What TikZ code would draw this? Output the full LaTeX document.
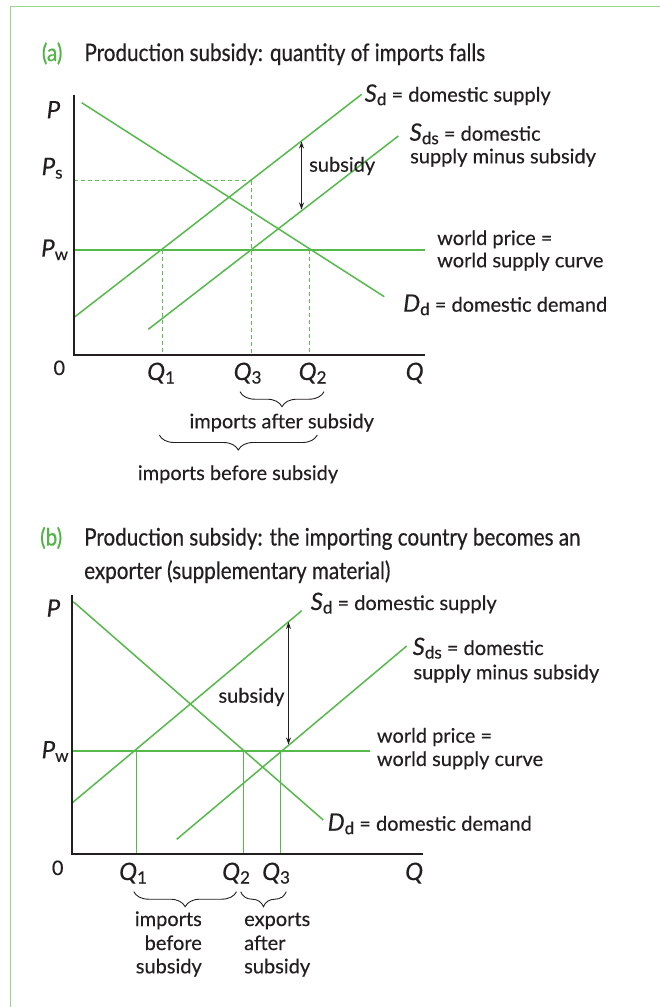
\documentclass[tikz,border=0pt]{standalone}
\usepackage{fontspec}
\setmainfont{Lato}[FakeBold=0.35]
\newfontfamily\titlefont{Lato}[FakeStretch=0.86,FakeBold=0.5]
\usetikzlibrary{arrows.meta,decorations.pathreplacing}
\definecolor{lgreen}{RGB}{85,185,75}
\definecolor{dgreen}{RGB}{95,192,85}
\definecolor{tgreen}{RGB}{80,180,70}
\definecolor{fgreen}{RGB}{150,215,140}
\definecolor{txt}{RGB}{35,31,32}
\newcommand\vl[2]{{\fontsize{24}{24}\selectfont\itshape #1}\raisebox{-3.5pt}{\fontsize{17}{17}\selectfont #2}}
\tikzset{
  lbl/.style={anchor=base west, inner sep=0pt, text=txt, font=\fontsize{20}{24}\selectfont},
  ttl/.style={anchor=base west, inner sep=0pt, text=txt, font=\titlefont\fontsize{24}{28}\selectfont},
  gline/.style={draw=lgreen, line width=1.5pt},
  wline/.style={draw=lgreen, line width=2pt},
  axisline/.style={draw=txt, line width=2pt, line join=miter},
  dline/.style={draw=dgreen, line width=1.2pt, dash pattern=on 4pt off 3pt},
  brc/.style={decorate, decoration={brace, mirror, amplitude=15pt}, draw=txt, line width=0.9pt},
  subarrow/.style={draw=txt, line width=1pt, {Stealth[length=7pt,width=5pt]}-{Stealth[length=7pt,width=5pt]}}
}
\begin{document}
\begin{tikzpicture}[x=1pt,y=-1pt]
\useasboundingbox (0,0) rectangle (660,1007);
% frame
\draw[fgreen, line width=1.3pt] (660,6.5) -- (10.5,6.5) -- (10.5,1007);

% ================= (a) =================
\node[ttl, text=tgreen] (ta) at (41.7,61) {(a)};
\node[ttl] (tat) at (84.3,61) {Production subsidy: quantity of imports falls};

\coordinate (aO) at (73.5,354.5);
\coordinate (aYtop) at (73.5,95);
\coordinate (aXend) at (425,354.5);
% dashed
\coordinate (aPs) at (73.5,180.5);
\coordinate (aQ3s) at (251.5,180.5);
\coordinate (aQ3b) at (251.5,354.5);
\coordinate (aQ1w) at (162.5,249.5);
\coordinate (aQ1b) at (162.5,354.5);
\coordinate (aQ2w) at (309.5,249.5);
\coordinate (aQ2b) at (309.5,354.5);
\draw[dline] (aPs) -- (aQ3s);
\draw[dline] (aQ3s) -- (aQ3b);
\draw[dline] (aQ1w) -- (aQ1b);
\draw[dline] (aQ2w) -- (aQ2b);
% curves
\coordinate (aD1) at (81.7,102.7);
\coordinate (aD2) at (384.3,296.7);
\coordinate (aS1) at (73.3,318);
\coordinate (aS2) at (361.7,94.3);
\coordinate (aT1) at (148.3,329.3);
\coordinate (aT2) at (398.3,136);
\coordinate (aW1) at (73.5,249.5);
\coordinate (aW2) at (425,249.5);
\draw[gline] (aD1) -- (aD2);
\draw[gline] (aS1) -- (aS2);
\draw[gline] (aT1) -- (aT2);
\draw[wline] (aW1) -- (aW2);
\draw[axisline] (aYtop) -- (aO) -- (aXend);
% subsidy arrow
\coordinate (aA1) at (301.5,141.5);
\coordinate (aA2) at (301.5,209.5);
\draw[subarrow] (aA1) -- (aA2);

\node[lbl] (aP) at (46.5,118.3) {\vl{P}{}};
\node[lbl] (aPsl) at (41.5,175) {\vl{P}{s}};
\node[lbl] (aPwl) at (41,256.7) {\vl{P}{w}};
\node[lbl] (a0) at (53.3,375) {0};
\node[lbl] (aQ1) at (147,380) {\vl{Q}{1}};
\node[lbl] (aQ3) at (233.5,380) {\vl{Q}{3}};
\node[lbl] (aQ2) at (298.5,380) {\vl{Q}{2}};
\node[lbl] (aQ) at (405.5,380) {\vl{Q}{}};
\node[lbl] (aSd) at (364.5,101.7) {\vl{S}{d} = domestic supply};
\node[lbl] (aSds) at (409.5,140.7) {\vl{S}{ds} = domestic};
\node[lbl] (aSds2) at (410,163.3) {supply minus subsidy};
\node[lbl] (asub) at (309,171.7) {subsidy};
\node[lbl] (awp) at (437,245) {world price =};
\node[lbl] (awp2) at (437,267.3) {world supply curve};
\node[lbl] (aDd) at (403,311.7) {\vl{D}{d} = domestic demand};

\coordinate (aB1s) at (240,391.7);
\coordinate (aB1e) at (324,391.7);
\coordinate (aB2s) at (159.3,435);
\coordinate (aB2e) at (317.3,435);
\draw[brc] (aB1s) -- (aB1e);
\draw[brc] (aB2s) -- (aB2e);
\node[lbl, anchor=base] (aia) at (281.7,428.3) {imports after subsidy};
\node[lbl, anchor=base] (aib) at (238,480) {imports before subsidy};

% ================= (b) =================
\node[ttl, text=tgreen] (tb) at (40,545.5) {(b)};
\node[ttl] (tbt) at (84,545.5) {Production subsidy: the importing country becomes an};
\node[ttl] (tbt2) at (84,579) {exporter (supplementary material)};

\coordinate (bO) at (71.5,853.5);
\coordinate (bYtop) at (71.5,595);
\coordinate (bXend) at (423.3,853.5);
\coordinate (bD1) at (73.3,601.7);
\coordinate (bD2) at (323.3,820);
\coordinate (bS1) at (71.7,803.3);
\coordinate (bS2) at (301.7,610.7);
\coordinate (bT1) at (176.7,839.3);
\coordinate (bT2) at (406.7,646);
\coordinate (bW1) at (71.5,750.5);
\coordinate (bW2) at (370,750.5);
\coordinate (bQ1w) at (136.5,750.5);
\coordinate (bQ1b) at (136.5,853.5);
\coordinate (bQ2w) at (243.5,750.5);
\coordinate (bQ2b) at (243.5,853.5);
\coordinate (bQ3w) at (280.5,750.5);
\coordinate (bQ3b) at (280.5,853.5);
\draw[gline] (bQ1w) -- (bQ1b);
\draw[gline] (bQ2w) -- (bQ2b);
\draw[gline] (bQ3w) -- (bQ3b);
\draw[gline] (bD1) -- (bD2);
\draw[gline] (bS1) -- (bS2);
\draw[gline] (bT1) -- (bT2);
\draw[wline] (bW1) -- (bW2);
\draw[axisline] (bYtop) -- (bO) -- (bXend);
\coordinate (bA1) at (288.5,622);
\coordinate (bA2) at (288.5,744.5);
\draw[subarrow] (bA1) -- (bA2);

\node[lbl] (bP) at (46.5,616.7) {\vl{P}{}};
\node[lbl] (bPwl) at (41.5,758.3) {\vl{P}{w}};
\node[lbl] (b0) at (51.7,875) {0};
\node[lbl] (bQ1) at (119,880) {\vl{Q}{1}};
\node[lbl] (bQ2) at (222,880) {\vl{Q}{2}};
\node[lbl] (bQ3) at (262,880) {\vl{Q}{3}};
\node[lbl] (bQ) at (405,880) {\vl{Q}{}};
\node[lbl] (bSd) at (310.5,610) {\vl{S}{d} = domestic supply};
\node[lbl] (bSds) at (412.5,655) {\vl{S}{ds} = domestic};
\node[lbl] (bSds2) at (413.3,679.3) {supply minus subsidy};
\node[lbl] (bsub) at (218.3,702.7) {subsidy};
\node[lbl] (bwp) at (376.7,742.7) {world price =};
\node[lbl] (bwp2) at (376.7,766) {world supply curve};
\node[lbl] (bDd) at (327.5,830.7) {\vl{D}{d} = domestic demand};

\coordinate (bB1s) at (133.8,891.7);
\coordinate (bB1e) at (236.5,891.7);
\coordinate (bB2s) at (240.7,891.7);
\coordinate (bB2e) at (286.2,891.7);
\draw[brc] (bB1s) -- (bB1e);
\draw[brc] (bB2s) -- (bB2e);
\node[lbl, anchor=base east] (bi1) at (202,926) {imports};
\node[lbl, anchor=base east] (bi2) at (202,950) {before};
\node[lbl, anchor=base east] (bi3) at (202,973.3) {subsidy};
\node[lbl] (be1) at (244,926) {exports};
\node[lbl] (be2) at (244,950) {after};
\node[lbl] (be3) at (244,973.3) {subsidy};
\end{tikzpicture}
\end{document}
